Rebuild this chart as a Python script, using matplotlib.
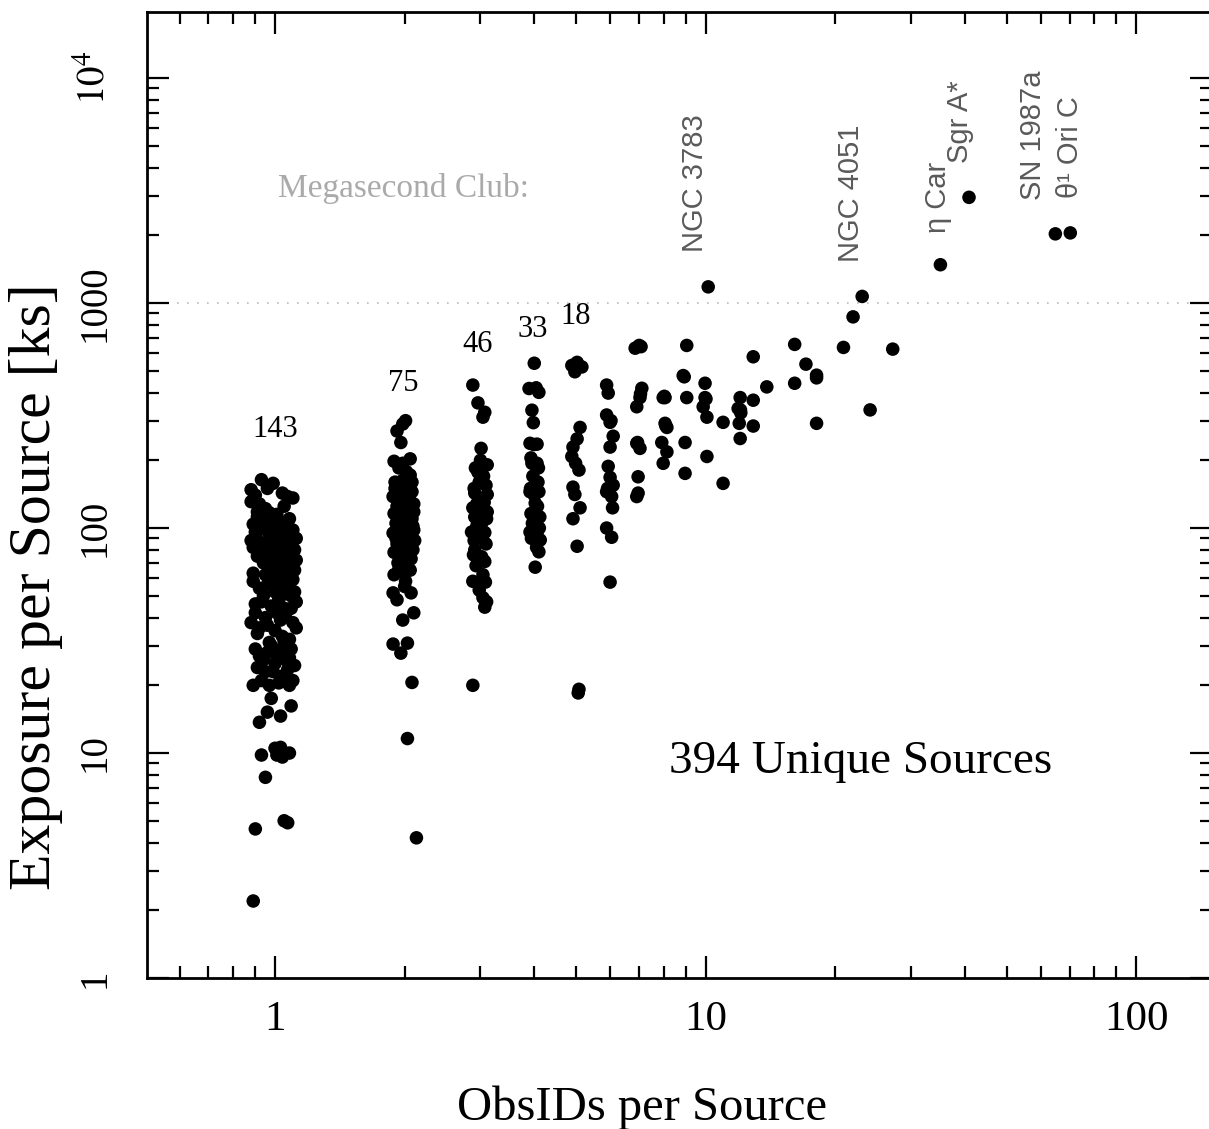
import numpy as np
import matplotlib.pyplot as plt
from matplotlib.ticker import FixedLocator, FixedFormatter, LogLocator, NullFormatter

plt.rcParams['font.family'] = 'Liberation Serif'
plt.rcParams['mathtext.fontset'] = 'stix'

# exposure [ks] vs number of ObsIDs, x slightly jittered around the integer count
obs1 = [
    (0.93, 164), (0.99, 158), (0.88, 148), (0.96, 150), (1.04, 143), (1.10, 136), (0.88, 131),
    (0.90, 140), (1.07, 138), (0.92, 128),
    (0.91, 112), (0.97, 117), (1.02, 108), (0.95, 122), (0.89, 104), (0.96, 100), (1.03, 98),
    (1.09, 95), (0.90, 96), (1.06, 102), (1.12, 90), (0.99, 106), (1.10, 88), (1.00, 92),
    (0.93, 86), (1.00, 89), (1.08, 91), (0.89, 82), (0.95, 78), (1.04, 84), (1.11, 80),
    (0.91, 75), (0.98, 73), (1.06, 76), (1.12, 72), (0.94, 70), (1.02, 69), (1.09, 68),
    (0.90, 92), (0.97, 94), (1.05, 93), (1.01, 80), (0.96, 84), (1.07, 86), (0.88, 88),
    (0.99, 97), (1.10, 98), (0.93, 99), (1.03, 75), (0.98, 66), (1.06, 64), (1.11, 65),
    (0.89, 63), (0.95, 62),
    (0.89, 58), (0.97, 60), (1.04, 57), (1.10, 59), (0.92, 54), (1.00, 52), (1.07, 55),
    (0.94, 50), (1.02, 48), (1.09, 50), (1.12, 47), (0.90, 46), (0.98, 45), (1.05, 44),
    (1.11, 52), (0.96, 56),
    (0.88, 38), (0.95, 40), (1.06, 42), (1.10, 38), (1.00, 35), (1.04, 33), (0.91, 34),
    (0.97, 31), (1.08, 32), (0.92, 36), (1.12, 36),
    (0.90, 29), (0.96, 28), (1.03, 28.5), (1.09, 29), (0.94, 26), (1.00, 25), (1.06, 26),
    (0.91, 24), (0.99, 23), (1.07, 23.5), (1.11, 24.5), (0.93, 21), (0.97, 20), (1.02, 20.5),
    (1.08, 20), (0.89, 20), (1.10, 21),
    (0.98, 17.5), (0.96, 15.2), (1.09, 16.2), (1.03, 14.6), (0.92, 13.7), (0.93, 9.8),
    (1.00, 10.5), (1.03, 10.6), (1.01, 9.8), (1.04, 9.6), (1.08, 10.0), (0.95, 7.8),
    (0.90, 4.6), (1.05, 5.0), (1.07, 4.9), (0.89, 2.2),
    (0.91, 118), (1.05, 125), (1.08, 110), (0.94, 108), (1.01, 115), (0.97, 88), (1.04, 96),
    (0.92, 80), (1.09, 77), (0.95, 71), (1.02, 62), (1.07, 60), (0.99, 56), (0.93, 47),
    (1.05, 51), (1.01, 42), (0.96, 37), (1.09, 44), (0.90, 42), (1.03, 39), (0.98, 30),
    (1.05, 31), (0.92, 27), (1.01, 27), (1.08, 26.5), (0.95, 23), (1.04, 22), (0.99, 83),
    (1.06, 70),
]
obs2 = [
    (2.01, 300), (1.98, 290), (1.92, 270), (1.96, 240), (1.89, 198), (2.06, 203), (1.98, 194),
    (2.06, 172), (1.98, 163),
    (1.90, 150), (1.96, 148), (2.03, 152), (2.08, 145), (1.88, 138), (1.94, 135), (2.00, 140),
    (2.06, 132), (2.10, 128), (1.92, 125), (1.98, 122), (2.04, 120), (1.89, 116), (1.95, 113),
    (2.01, 115), (2.08, 110), (1.91, 105), (1.97, 103), (2.03, 100), (2.10, 98), (1.88, 95),
    (1.94, 93), (2.00, 90), (2.06, 92), (2.11, 88), (1.92, 85), (1.98, 82), (2.04, 84),
    (2.09, 80), (1.89, 78), (1.95, 75), (2.02, 76), (2.07, 73), (1.93, 70), (2.00, 68),
    (2.05, 108), (1.99, 130), (1.93, 155), (2.10, 118), (1.96, 88),
    (1.89, 62), (2.01, 58), (1.88, 51.5), (1.92, 48), (2.07, 51.5), (1.98, 39), (2.10, 42),
    (1.88, 30.5), (2.03, 30.8), (1.96, 27.8), (2.08, 20.6), (2.03, 11.6), (2.13, 4.2),
    (1.94, 185), (2.02, 178), (2.08, 160), (1.90, 160), (2.05, 142), (1.97, 110), (2.09, 102),
    (1.91, 90), (2.03, 96), (1.97, 64), (2.06, 65), (2.00, 55), (1.94, 66),
]
obs3 = [
    (2.88, 432), (2.96, 360), (3.07, 327), (3.04, 311), (3.01, 226), (3.11, 191), (2.96, 177),
    (2.91, 143), (3.11, 141), (2.88, 123), (3.11, 118), (2.91, 112), (3.02, 105), (2.86, 96),
    (3.07, 95.5), (2.94, 101), (2.91, 80), (3.02, 74.5), (3.07, 71), (2.88, 58), (3.08, 57.5),
    (3.04, 49), (3.07, 44.5), (2.88, 20),
    (2.92, 185), (3.05, 170), (2.98, 160), (3.09, 155), (2.90, 150), (3.00, 135), (3.06, 130),
    (2.94, 128), (3.10, 110), (2.96, 115), (3.03, 90), (2.90, 88), (3.09, 85), (2.97, 92),
    (2.93, 68), (3.04, 62), (2.98, 53), (3.10, 47), (2.95, 104), (3.05, 120), (2.89, 76),
    (3.00, 200),
]
obs4 = [
    (4.00, 540), (3.89, 417), (4.10, 401), (3.95, 334), (3.98, 294), (3.91, 238), (4.06, 236),
    (3.95, 194), (4.06, 194), (3.91, 145), (4.10, 145), (4.02, 129), (3.93, 116), (4.12, 112),
    (3.91, 96), (4.06, 95.5), (4.13, 88.5), (4.10, 78.4), (4.02, 67),
    (4.04, 420), (3.93, 205), (4.09, 185), (3.97, 170), (4.08, 160), (3.92, 150), (4.00, 140),
    (4.07, 125), (3.96, 105), (4.11, 100), (4.03, 108), (3.94, 90), (4.05, 82), (3.99, 235),
]
obs5 = [
    (4.89, 528), (5.03, 545), (5.16, 520), (4.97, 495), (5.11, 280), (5.03, 249), (4.92, 229),
    (4.89, 208), (4.99, 194), (5.08, 181), (4.92, 152), (4.97, 141), (5.11, 123), (4.92, 110),
    (5.03, 83), (5.08, 19.2), (5.06, 18.5), (5.05, 530),
]
obs_more = [
    # 6 ObsIDs
    (5.89, 432), (5.94, 398), (5.89, 318), (6.00, 295), (6.10, 256), (6.00, 229), (5.94, 188),
    (6.00, 168), (6.10, 155), (5.89, 145), (6.05, 138), (6.08, 123), (5.89, 100), (6.05, 91),
    (6.00, 57.5), (6.03, 300), (5.92, 150),
    # 7
    (6.86, 630), (7.01, 648), (7.11, 418), (7.04, 380), (6.92, 346), (6.92, 238), (7.04, 226),
    (6.97, 169), (6.97, 143), (6.92, 138), (7.06, 395), (7.08, 640), (6.95, 240),
    # 8
    (7.97, 380), (8.05, 380), (8.05, 292), (8.13, 280), (7.91, 240), (8.13, 218), (7.97, 194),
    (8.02, 385), (8.08, 285),
    # 9
    (9.04, 648), (8.87, 476), (9.04, 380), (8.96, 240), (8.96, 175), (8.92, 470),
    # 10
    (10.14, 1180), (9.97, 440), (9.97, 380), (9.87, 346), (10.07, 311), (10.07, 208), (10.02, 375),
    # 11 - 18
    (10.98, 295), (10.98, 158),
    (12.03, 380), (11.90, 340), (12.07, 325), (11.97, 292), (12.03, 250), (12.05, 335),
    (12.9, 577), (12.9, 370), (12.9, 284),
    (13.87, 424),
    (16.1, 655), (16.1, 440),
    (17.1, 535),
    (18.1, 478), (18.1, 465), (18.1, 292),
    # megasecond end
    (20.9, 635), (22.0, 868), (23.1, 1070), (24.1, 335), (27.2, 624),
    (35.1, 1480), (40.9, 2950), (64.9, 2030), (70.3, 2050),
]

columns = [obs1, obs2, obs3, obs4, obs5]
count_pos = [(1.0, 273), (1.98, 441), (2.96, 657), (3.97, 760), (4.98, 875)]

named = [
    ('NGC 3783', 9.45, 1690),
    ('NGC 4051', 21.8, 1520),
    ('η Car', 34.6, 2050),
    ('Sgr A*', 38.9, 4190),
    ('SN 1987a', 57.6, 2870),
    ('θ¹ Ori C', 70.3, 2930),
]

fig = plt.figure(figsize=(12.09, 11.29), dpi=100)
ax = fig.add_axes([0.1212, 0.1337, 0.8813, 0.8556])
ax.set_xscale('log')
ax.set_yscale('log')
ax.set_xlim(0.503, 150)
ax.set_ylim(1, 19640)

for pts in columns + [obs_more]:
    p = np.array(pts, dtype=float)
    ax.scatter(p[:, 0], p[:, 1], s=95, c='k', edgecolors='none', zorder=3)

ax.axhline(1000, color='#bbbbbb', lw=1.2, ls=(0, (1, 5)), zorder=1)

for pts, (tx, ty) in zip(columns, count_pos):
    ax.text(tx, ty, str(len(pts)), fontsize=22, ha='center', va='center')

total = sum(len(c) for c in columns) + len(obs_more)
ax.text(22.9, 9.12, f'{total} Unique Sources', fontsize=34, ha='center', va='center')
ax.text(1.99, 3245, 'Megasecond Club:', fontsize=24, color='#aaaaaa', ha='center', va='center')

for name, tx, ty in named:
    ax.text(tx, ty, name, rotation=90, fontsize=21, color='#5a5a5a',
            family='Liberation Sans', ha='center', va='bottom')

# ticks
ax.xaxis.set_major_locator(FixedLocator([1, 10, 100]))
ax.xaxis.set_major_formatter(FixedFormatter(['1', '10', '100']))
ax.xaxis.set_minor_locator(LogLocator(base=10, subs=range(2, 10), numticks=20))
ax.xaxis.set_minor_formatter(NullFormatter())
ax.yaxis.set_major_locator(FixedLocator([1, 10, 100, 1000, 1e4]))
ax.yaxis.set_major_formatter(FixedFormatter(['1', '10', '100', '1000', r'$10^4$']))
ax.yaxis.set_minor_locator(LogLocator(base=10, subs=range(2, 10), numticks=20))
ax.yaxis.set_minor_formatter(NullFormatter())

ax.tick_params(which='both', direction='in', top=True, right=True, width=1.6)
ax.tick_params(which='major', length=16)
ax.tick_params(which='minor', length=8.5)
ax.tick_params(axis='x', labelsize=31, pad=16)
ax.tick_params(axis='y', labelsize=28, pad=24, labelrotation=90)
for lbl in ax.get_yticklabels():
    lbl.set_va('center')
for sp in ax.spines.values():
    sp.set_linewidth(2)

ax.set_xlabel('ObsIDs per Source', fontsize=35)
ax.set_ylabel('Exposure per Source [ks]', fontsize=43)
ax.xaxis.set_label_coords(0.465, -0.1108)
ax.yaxis.set_label_coords(-0.078, 0.405)

fig.savefig('out.png', dpi=100)
